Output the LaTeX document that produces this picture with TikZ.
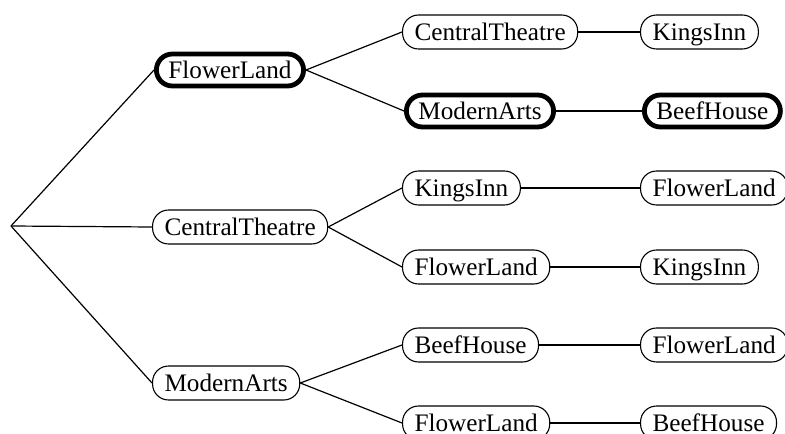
\documentclass[tikz,border=0pt]{standalone}
\usepackage{fontspec}
\setmainfont{Liberation Serif}
\begin{document}
\begin{tikzpicture}[x=1pt,y=1pt,
  place/.style={draw, line width=1.1pt, rounded corners=16pt,
    minimum height=34pt, inner xsep=12pt, inner ysep=0pt,
    text height=16.6pt, text depth=0pt,
    font=\fontsize{25.2}{30}\selectfont, anchor=west},
  chosen/.style={place, line width=4.8pt, minimum height=32pt},
  link/.style={line width=1.2pt}]
\useasboundingbox (0,0) rectangle (785,434);
\clip (0,0) rectangle (785,434);

% root of the search tree
\coordinate (root) at (11,208);

% first level
\node[chosen] (a1) at (154,364) {FlowerLand};
\node[place]  (a2) at (152,207) {CentralTheatre};
\node[place]  (a3) at (152,51)  {ModernArts};

% second level
\node[place]  (b1) at (402,402) {CentralTheatre};
\node[chosen] (b2) at (404,323) {ModernArts};
\node[place]  (b3) at (402,246) {KingsInn};
\node[place]  (b4) at (402,167) {FlowerLand};
\node[place]  (b5) at (402,89)  {BeefHouse};
\node[place]  (b6) at (402,11)  {FlowerLand};

% third level
\node[place]  (c1) at (640,402) {KingsInn};
\node[chosen] (c2) at (642,323) {BeefHouse};
\node[place]  (c3) at (640,246) {FlowerLand};
\node[place]  (c4) at (640,167) {KingsInn};
\node[place]  (c5) at (640,89)  {FlowerLand};
\node[place]  (c6) at (640,11)  {BeefHouse};

% connectors
\draw[link] (root) -- (a1.west);
\draw[link] (root) -- (a2.west);
\draw[link] (root) -- (a3.west);

\draw[link] (a1.east) -- (b1.west);
\draw[link] (a1.east) -- (b2.west);
\draw[link] (a2.east) -- (b3.west);
\draw[link] (a2.east) -- (b4.west);
\draw[link] (a3.east) -- (b5.west);
\draw[link] (a3.east) -- (b6.west);

\draw[link] (b1.east) -- (c1.west);
\draw[link] (b2.east) -- (c2.west);
\draw[link] (b3.east) -- (c3.west);
\draw[link] (b4.east) -- (c4.west);
\draw[link] (b5.east) -- (c5.west);
\draw[link] (b6.east) -- (c6.west);
\end{tikzpicture}
\end{document}
